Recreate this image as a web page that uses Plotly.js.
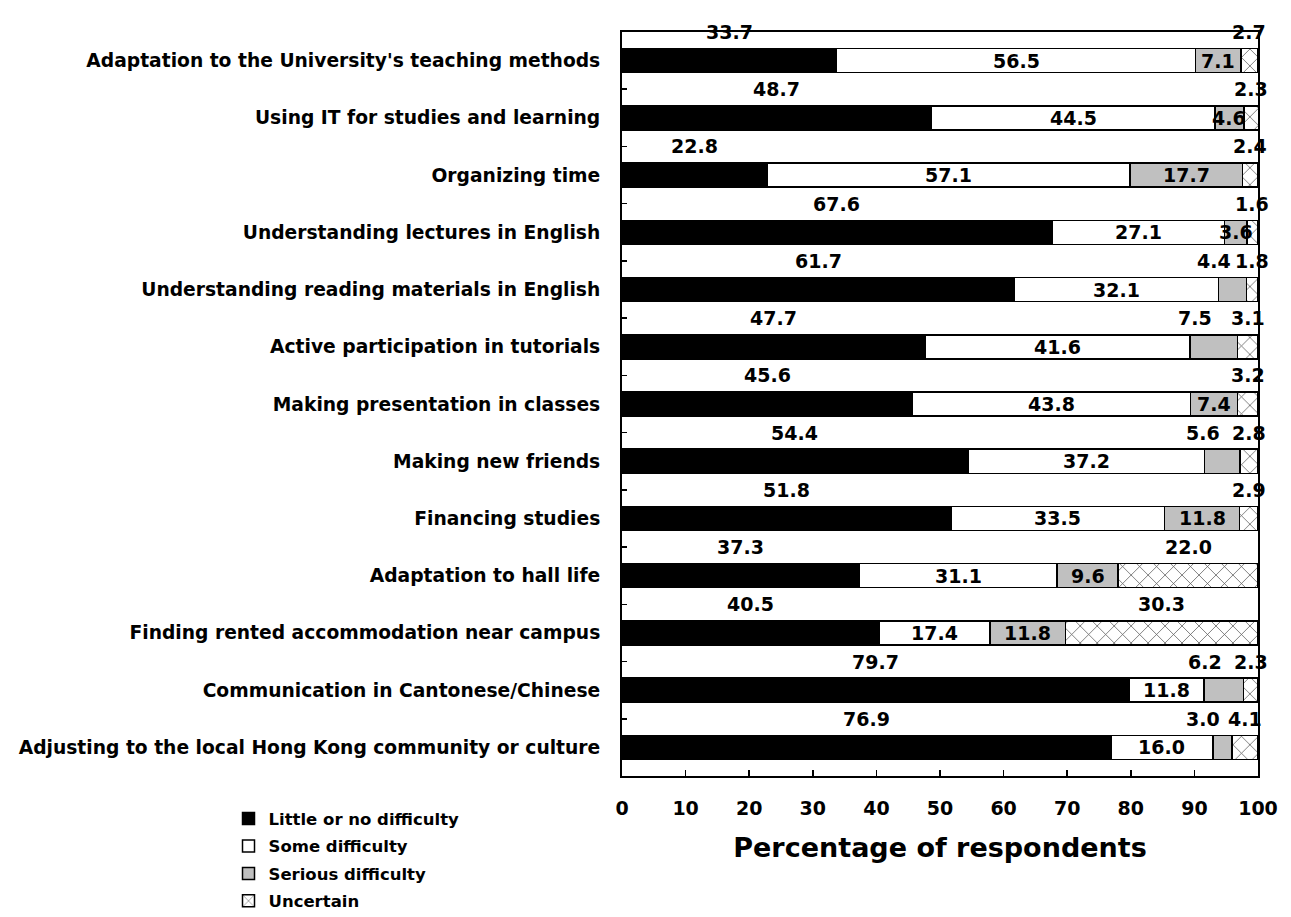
<!DOCTYPE html>
<html>
<head>
<meta charset="utf-8">
<script src="https://cdn.plot.ly/plotly-3.0.1.min.js"></script>
<style>
  html, body { margin: 0; padding: 0; background: #ffffff; }
  #chart { width: 1291px; height: 917px; }
</style>
</head>
<body>
<div id="chart"></div>
<script>
const categories = [
  "Adaptation to the University's teaching methods",
  "Using IT for studies and learning",
  "Organizing time",
  "Understanding lectures in English",
  "Understanding reading materials in English",
  "Active participation in tutorials",
  "Making presentation in classes",
  "Making new friends",
  "Financing studies",
  "Adaptation to hall life",
  "Finding rented accommodation near campus",
  "Communication in Cantonese/Chinese",
  "Adjusting to the local Hong Kong community or culture"
];
const little    = [33.7, 48.7, 22.8, 67.6, 61.7, 47.7, 45.6, 54.4, 51.8, 37.3, 40.5, 79.7, 76.9];
const some      = [56.5, 44.5, 57.1, 27.1, 32.1, 41.6, 43.8, 37.2, 33.5, 31.1, 17.4, 11.8, 16.0];
const serious   = [7.1, 4.6, 17.7, 3.6, 4.4, 7.5, 7.4, 5.6, 11.8, 9.6, 11.8, 6.2, 3.0];
const uncertain = [2.7, 2.3, 2.4, 1.6, 1.8, 3.1, 3.2, 2.8, 2.9, 22.0, 30.3, 2.3, 4.1];
const seriesNames = ["Little or no difficulty", "Some difficulty", "Serious difficulty", "Uncertain"];
const xTicks = [0, 10, 20, 30, 40, 50, 60, 70, 80, 90, 100];
// which "Serious difficulty" labels sit above the bar instead of inside
const seriousLabelAbove = [false, false, false, false, true, true, false, true, false, false, false, true, true];

const FONT = "DejaVu Sans, Verdana, sans-serif";
const lineStyle = { color: "#000000", width: 1.5 };
const barWidth = 0.42;

const traces = [
  { name: seriesNames[0], x: little, marker: { color: "#000000", line: lineStyle } },
  { name: seriesNames[1], x: some, marker: { color: "#ffffff", line: lineStyle } },
  { name: seriesNames[2], x: serious, marker: { color: "#c0c0c0", line: lineStyle } },
  { name: seriesNames[3], x: uncertain, marker: { color: "#ffffff", line: lineStyle,
      pattern: { shape: "x", fgcolor: "#555555", bgcolor: "#ffffff", size: 12, solidity: 0.12 } } }
].map((t, k) => Object.assign({
  type: "bar", orientation: "h", y: categories, width: barWidth,
  hoverinfo: "skip", legendgroup: "g" + k
}, t));

const labelFont = { family: FONT, size: 19, color: "#000000", weight: "bold" };
const annotations = [];
function addLabel(x, y, value, xanchor) {
  annotations.push({ x: x, y: y, xref: "x", yref: "y", text: value.toFixed(1), showarrow: false,
    xanchor: xanchor || "center", yanchor: "middle", font: labelFont });
}
categories.forEach((c, i) => {
  const s1 = little[i], s2 = s1 + some[i], s3 = s2 + serious[i];
  addLabel(s1 / 2, i - 0.5, little[i]);
  addLabel(s1 + some[i] / 2, i, some[i]);
  if (seriousLabelAbove[i]) addLabel(s2 + serious[i] / 2, i - 0.5, serious[i], "right");
  else addLabel(s2 + serious[i] / 2, i, serious[i]);
  addLabel(s3 + uncertain[i] / 2, i - 0.5, uncertain[i]);
});

const layout = {
  width: 1291, height: 917,
  margin: { l: 622, r: 33, t: 32, b: 141, autoexpand: false },
  paper_bgcolor: "#ffffff", plot_bgcolor: "#ffffff",
  barmode: "stack",
  showlegend: true,
  font: { family: FONT, color: "#000000" },
  xaxis: {
    range: [0, 100], tickvals: xTicks, ticktext: xTicks.map(String),
    ticks: "inside", ticklen: 6, tickwidth: 1.5, tickcolor: "#000000",
    showline: true, linecolor: "#000000", linewidth: 2, mirror: true,
    showgrid: false, zeroline: false, fixedrange: true, automargin: false,
    tickfont: { family: FONT, size: 19, color: "#000000", weight: "bold" },
    ticklabelstandoff: 14,
    title: { text: "Percentage of respondents", standoff: 20,
      font: { family: FONT, size: 27, color: "#000000", weight: "bold" } }
  },
  yaxis: {
    type: "category", categoryorder: "array", categoryarray: categories,
    range: [12.5, -0.5],
    ticks: "inside", ticklen: 5, tickwidth: 1.5, tickcolor: "#000000", tickson: "boundaries",
    showline: true, linecolor: "#000000", linewidth: 2, mirror: true,
    showgrid: false, zeroline: false, fixedrange: true, automargin: false,
    tickfont: { family: FONT, size: 18.7, color: "#000000", weight: "bold" },
    ticklabelstandoff: 16
  },
  legend: {
    xref: "container", yref: "container",
    x: 0.177, xanchor: "left", y: 0.1262, yanchor: "top",
    orientation: "v", traceorder: "grouped", tracegroupgap: 3,
    itemwidth: 30, borderwidth: 0,
    font: { family: FONT, size: 16.5, color: "#000000", weight: "bold" },
    bgcolor: "rgba(0,0,0,0)"
  },
  annotations: annotations
};

Plotly.newPlot("chart", traces, layout, { displayModeBar: false, staticPlot: true });
</script>
</body>
</html>
